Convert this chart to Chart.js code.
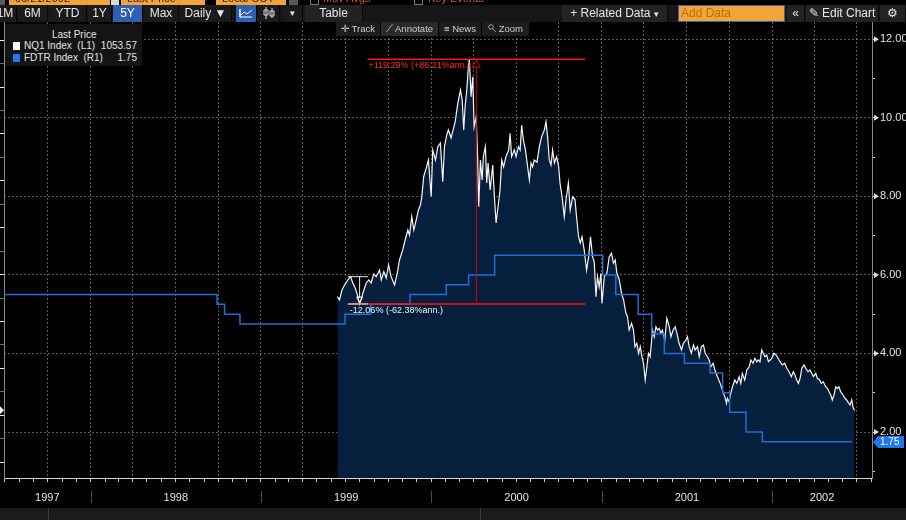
<!DOCTYPE html>
<html>
<head>
<meta charset="utf-8">
<title>NQ1 Index vs FDTR Index</title>
<script src="https://cdn.jsdelivr.net/npm/chart.js@4.4.1/dist/chart.umd.min.js"></script>
<style>
  html, body { margin: 0; padding: 0; background: #000; }
  #wrap { position: relative; width: 906px; height: 520px; overflow: hidden; font-family: "Liberation Sans", Arial, sans-serif; color: #ddd; }
  #chart { position: absolute; left: 0; top: 0; }
  .a { position: absolute; white-space: nowrap; box-sizing: border-box; }
  .row0 { top: -9px; height: 14px; font-size: 11px; line-height: 14px; }
  .obox { background: #f0a43a; color: #3a2200; padding-left: 6px; }
  .gbox { background: #5a5a5a; }
  .btn { top: 5px; height: 17px; line-height: 17px; font-size: 12px; text-align: center; color: #e6e6e6; background: #1b1b1b; border-right: 1px solid #080808; }
  .on { background: #2f5fb3; color: #fff; }
  .tb { top: 22px; height: 14px; line-height: 14px; font-size: 9.5px; color: #cfcfcf; background: #1d1d1d; text-align: center; }
  #legend { left: 5px; top: 24px; width: 137px; height: 42px; background: #141414; font-size: 10px; color: #e4e4e4; }
  #legend .sq { position: absolute; left: 8px; width: 7px; height: 8px; }
  #legend .nm { position: absolute; left: 19px; }
  #legend .vl { position: absolute; right: 5px; }
</style>
</head>
<body>
<div id="wrap">
  <canvas id="chart" width="906" height="520"></canvas>

  <div class="a row0 gbox" style="left:0;width:5px"></div>
  <div class="a row0 obox" style="left:9px;width:101px">06/21/2002</div>
  <div class="a row0" style="left:111px;width:8px;background:#d8d8d8"></div>
  <div class="a row0 obox" style="left:121px;width:84px">Last Price</div>
  <div class="a row0 obox" style="left:216px;width:70px">Local CCY</div>
  <div class="a row0 gbox" style="left:289px;width:9px"></div>
  <div class="a row0" style="left:310px;width:9px;border:1px solid #777"></div>
  <div class="a row0" style="left:323px;color:#e0502a">Mov Avgs</div>
  <div class="a row0" style="left:414px;width:9px;border:1px solid #777"></div>
  <div class="a row0" style="left:428px;color:#e0502a">Key Events</div>

  <div class="a" style="left:0;top:5px;width:906px;height:17px;background:#161616"></div>
  <div class="a btn" style="left:-6px;width:23px">1M</div>
  <div class="a btn" style="left:18px;width:30px">6M</div>
  <div class="a btn" style="left:49px;width:38px">YTD</div>
  <div class="a btn" style="left:88px;width:24px">1Y</div>
  <div class="a btn on" style="left:113px;width:30px">5Y</div>
  <div class="a btn" style="left:144px;width:35px">Max</div>
  <div class="a btn" style="left:180px;width:52px">Daily ▼</div>
  <div class="a btn on" style="left:236px;width:21px"><svg width="14" height="10" style="margin-top:3px"><polyline points="1,9 1,1 1,9 13,9" fill="none" stroke="#fff"/><polyline points="2,7 5,4 8,6 13,2" fill="none" stroke="#fff"/></svg></div>
  <div class="a btn" style="left:258px;width:22px"><svg width="12" height="12" style="margin-top:2px"><path d="M3 0V12M1 3H5V8H1Z M9 1V11M7 4H11V9H7Z" fill="none" stroke="#ddd"/></svg></div>
  <div class="a btn" style="left:283px;width:20px;font-size:9px">▾</div>
  <div class="a btn" style="left:305px;width:58px;background:#222">Table</div>
  <div class="a btn" style="left:562px;width:106px;background:#232323">+ Related Data <span style="font-size:9px">▾</span></div>
  <div class="a btn" style="left:678px;width:107px;background:#f0a43a;color:#b8700e;text-align:left;padding-left:2px;border:1px solid #3a64a8;line-height:15px">Add Data</div>
  <div class="a btn" style="left:787px;width:18px;background:#232323">«</div>
  <div class="a btn" style="left:806px;width:73px;background:#232323">✎ Edit Chart</div>
  <div class="a btn" style="left:880px;width:26px;background:#232323">⚙</div>

  <div class="a tb" style="left:336px;width:44px">✛ Track</div>
  <div class="a tb" style="left:381px;width:57px;background:#2a2a2a">⟋ Annotate</div>
  <div class="a tb" style="left:439px;width:42px">≡ News</div>
  <div class="a tb" style="left:482px;width:47px"><svg width="8" height="8"><circle cx="3" cy="3" r="2.3" fill="none" stroke="#999"/><line x1="5" y1="5" x2="8" y2="8" stroke="#999"/></svg> Zoom</div>

  <div class="a" id="legend">
    <div class="a" style="left:47px;top:5px">Last Price</div>
    <div class="sq" style="top:18px;background:#fff"></div>
    <div class="nm" style="top:16px">NQ1 Index&nbsp; (L1)</div>
    <div class="vl" style="top:16px">1053.57</div>
    <div class="sq" style="top:30px;background:#1e78ee"></div>
    <div class="nm" style="top:28px">FDTR Index&nbsp; (R1)</div>
    <div class="vl" style="top:28px">1.75</div>
  </div>

  <div class="a" style="left:0;top:508px;width:906px;height:12px;background:#1b1b1b"></div>
  <div class="a" style="left:48px;top:508px;width:1px;height:12px;background:#3c3c3c"></div>
  <div class="a" style="left:480px;top:508px;width:1px;height:12px;background:#3c3c3c"></div>
</div>

<script>
const yearLabels = ['1997', '1998', '1999', '2000', '2001', '2002'];
const xStart = 1997.492;
const xEnd = 2002.586;

const priceTicks = [500, 750, 1000, 1250, 1500, 1750, 2000, 2250, 2500, 2750, 3000, 3250, 3500, 3750, 4000, 4250, 4500, 4750, 5000];
const rateTicks = [1, 2, 3, 4, 5, 6, 7, 8, 9, 10, 11, 12];

// NQ1 Index (time in decimal years)
const nqTime = [
  1999.448, 1999.461, 1999.475, 1999.491, 1999.510, 1999.526, 1999.539, 1999.553, 1999.569, 1999.579,
  1999.592, 1999.608, 1999.618, 1999.633, 1999.647, 1999.662, 1999.676, 1999.696, 1999.706, 1999.721,
  1999.735, 1999.749, 1999.764, 1999.784, 1999.800, 1999.813, 1999.832, 1999.846, 1999.862, 1999.872,
  1999.885, 1999.897, 1999.911, 1999.924, 1999.936, 1999.944, 1999.955, 1999.970, 1999.983, 1999.999,
  2000.008, 2000.024, 2000.038, 2000.053, 2000.067, 2000.077, 2000.090, 2000.100, 2000.116, 2000.125,
  2000.140, 2000.155, 2000.171, 2000.181, 2000.190, 2000.198, 2000.208, 2000.217, 2000.223, 2000.233,
  2000.243, 2000.251, 2000.263, 2000.272, 2000.278, 2000.288, 2000.298, 2000.305, 2000.317, 2000.325,
  2000.333, 2000.345, 2000.360, 2000.370, 2000.380, 2000.389, 2000.403, 2000.413, 2000.424, 2000.438,
  2000.454, 2000.462, 2000.471, 2000.487, 2000.497, 2000.511, 2000.521, 2000.530, 2000.540, 2000.552,
  2000.565, 2000.575, 2000.585, 2000.594, 2000.604, 2000.620, 2000.634, 2000.647, 2000.663, 2000.673,
  2000.682, 2000.692, 2000.702, 2000.712, 2000.722, 2000.735, 2000.747, 2000.755, 2000.767, 2000.780,
  2000.790, 2000.804, 2000.815, 2000.829, 2000.843, 2000.852, 2000.864, 2000.874, 2000.884, 2000.897,
  2000.911, 2000.923, 2000.934, 2000.946, 2000.956, 2000.966, 2000.975, 2000.985, 2000.995, 2001.001,
  2001.015, 2001.030, 2001.044, 2001.057, 2001.069, 2001.079, 2001.089, 2001.103, 2001.116, 2001.128,
  2001.142, 2001.151, 2001.161, 2001.175, 2001.186, 2001.195, 2001.206, 2001.216, 2001.226, 2001.236,
  2001.245, 2001.255, 2001.265, 2001.274, 2001.284, 2001.298, 2001.308, 2001.318, 2001.327, 2001.337,
  2001.347, 2001.356, 2001.370, 2001.382, 2001.396, 2001.406, 2001.419, 2001.431, 2001.441, 2001.454,
  2001.468, 2001.479, 2001.494, 2001.503, 2001.513, 2001.526, 2001.538, 2001.548, 2001.562, 2001.572,
  2001.585, 2001.597, 2001.607, 2001.620, 2001.630, 2001.640, 2001.654, 2001.664, 2001.679, 2001.695,
  2001.708, 2001.722, 2001.732, 2001.737, 2001.747, 2001.757, 2001.767, 2001.781, 2001.793, 2001.806,
  2001.816, 2001.825, 2001.839, 2001.851, 2001.865, 2001.875, 2001.888, 2001.898, 2001.910, 2001.919,
  2001.929, 2001.939, 2001.948, 2001.958, 2001.968, 2001.978, 2001.988, 2001.998, 2002.011, 2002.023,
  2002.035, 2002.046, 2002.060, 2002.074, 2002.086, 2002.099, 2002.113, 2002.124, 2002.134, 2002.144,
  2002.154, 2002.164, 2002.174, 2002.187, 2002.197, 2002.210, 2002.222, 2002.232, 2002.242, 2002.256,
  2002.265, 2002.279, 2002.288, 2002.300, 2002.314, 2002.324, 2002.334, 2002.344, 2002.353, 2002.363,
  2002.373, 2002.382, 2002.392, 2002.402, 2002.416, 2002.427, 2002.437, 2002.447, 2002.457, 2002.467,
  2002.476, 2002.484
];
const nqPrice = [
  2265, 2230, 2336, 2389, 2443, 2478, 2411, 2357, 2265, 2187,
  2265, 2357, 2411, 2443, 2411, 2507, 2478, 2549, 2443, 2531,
  2464, 2603, 2478, 2389, 2517, 2656, 2763, 2869, 2976, 2922,
  3117, 2976, 3082, 3189, 3242, 3331, 3544, 3637, 3722, 3331,
  3829, 3722, 3864, 3903, 3491, 3864, 3988, 4042, 3956, 4024,
  4130, 4326, 4468, 4362, 4042, 4290, 4468, 4716, 4796, 4397,
  4610, 4077, 4183, 3722, 3224, 3722, 3509, 3757, 3864, 3477,
  3690, 3402, 3669, 3331, 3050, 3189, 3402, 3722, 3650, 3757,
  3829, 4007, 3757, 3829, 3757, 3864, 3829, 4095, 3935, 3829,
  3650, 3509, 3690, 3650, 3722, 3700, 3864, 3970, 4042, 4130,
  3970, 3722, 3669, 3829, 3690, 3757, 3650, 3477, 3331, 3117,
  3296, 3477, 3189, 3331, 3300, 3117, 2904, 2837, 2904, 2763,
  2549, 2691, 2904, 2691, 2635, 2265, 2478, 2371, 2514, 2194,
  2478, 2514, 2691, 2727, 2621, 2656, 2514, 2443, 2301, 2230,
  2088, 2051, 1910, 1981, 1910, 1732, 1768, 1661, 1732, 1625,
  1555, 1377, 1518, 1661, 1625, 1910, 1838, 1945, 1910, 1928,
  1874, 1910, 1803, 2034, 1945, 1838, 1910, 1945, 1874, 1768,
  1697, 1768, 1803, 1838, 1732, 1661, 1750, 1697, 1732, 1625,
  1732, 1750, 1661, 1625, 1590, 1518, 1555, 1483, 1412, 1341,
  1270, 1199, 1128, 1182, 1145, 1235, 1305, 1377, 1341, 1412,
  1341, 1448, 1377, 1483, 1518, 1590, 1555, 1608, 1572, 1590,
  1572, 1697, 1661, 1625, 1643, 1572, 1590, 1608, 1661, 1643,
  1608, 1572, 1537, 1555, 1502, 1465, 1412, 1465, 1430, 1377,
  1341, 1395, 1502, 1537, 1502, 1465, 1483, 1448, 1412, 1448,
  1395, 1377, 1341, 1359, 1305, 1288, 1252, 1217, 1164, 1217,
  1305, 1288, 1305, 1252, 1217, 1182, 1164, 1135, 1110, 1164,
  1075, 1053.57
];

// FDTR Index: fed funds target rate changes
const fdtrDates = ['1997-06-27', '1998-09-29', '1998-10-15', '1998-11-17', '1999-06-30', '1999-08-24', '1999-11-16',
  '2000-02-02', '2000-03-21', '2000-05-16', '2001-01-03', '2001-01-31', '2001-03-20', '2001-04-18', '2001-05-15',
  '2001-06-27', '2001-08-21', '2001-09-17', '2001-10-02', '2001-11-06', '2001-12-11', '2002-06-21'];
const fdtrRate = [5.5, 5.25, 5.0, 4.75, 5.0, 5.25, 5.5, 5.75, 6.0, 6.5, 6.0, 5.5, 5.0, 4.5, 4.0, 3.75, 3.5, 3.0, 2.5, 2.0, 1.75, 1.75];

// annotation spans (decimal years)
const rallyLineFrom = 1999.508, rallyLabelFrom = 1999.625, rallyLineTo = 2000.902, rallyMarkAt = 2000.264;
const dipFrom = 1999.510, dipTo = 1999.628, dipMarkAt = 1999.579, dipHigh = 2478;
const rallyText = '+119.29% (+86.21%ann.)';
const dipText = '-12.06% (-62.38%ann.)';

const gridCol = 'rgba(150,150,150,0.6)';
const smallFont = '9px "Liberation Sans", Arial, sans-serif';

function toYear(s) {
  const d = new Date(s + 'T00:00:00Z');
  const y = d.getUTCFullYear();
  const a = Date.UTC(y, 0, 1), b = Date.UTC(y + 1, 0, 1);
  return y + (d.getTime() - a) / (b - a);
}

function buildTimeTicks() {
  const ticks = [];
  for (let y = 1997; y <= 2002; y++) {
    for (let m = 0; m < 12; m++) {
      const v = y + (Date.UTC(y, m, 1) - Date.UTC(y, 0, 1)) / (Date.UTC(y + 1, 0, 1) - Date.UTC(y, 0, 1));
      if (v >= xStart && v <= xEnd) ticks.push({ value: v, month: m, quarter: m % 3 === 0 });
    }
  }
  yearLabels.forEach(l => {
    const y = +l;
    const a = Math.max(y, xStart), b = Math.min(y + 1, xEnd);
    ticks.push({ value: (a + b) / 2 + 0.0001, yearLabel: l });
  });
  return ticks.sort((p, q) => p.value - q.value);
}

const nqPeak = Math.max(...nqPrice);
const nqTrough = Math.min(...nqPrice.filter((v, i) => nqTime[i] >= rallyLineFrom && nqTime[i] <= rallyMarkAt));

const extrasPlugin = {
  id: 'extras',
  afterDraw(chart) {
    const ctx = chart.ctx;
    const xs = chart.scales.x, yl = chart.scales.y, yr = chart.scales.y1;
    const px = v => xs.getPixelForValue(v);
    const py = v => yl.getPixelForValue(v);
    ctx.save();

    // year separators in the label band
    ctx.strokeStyle = '#4a4a4a';
    ctx.lineWidth = 1;
    yearLabels.slice(1).forEach(l => {
      const x = Math.round(px(+l)) + 0.5;
      ctx.beginPath(); ctx.moveTo(x, 491); ctx.lineTo(x, 503); ctx.stroke();
    });

    // rally measurement (red)
    const yTop = py(nqPeak), yBot = py(nqTrough), xm = px(rallyMarkAt);
    ctx.strokeStyle = '#ff1414';
    ctx.lineWidth = 1.5;
    ctx.beginPath();
    ctx.moveTo(px(rallyLabelFrom), yTop); ctx.lineTo(px(rallyLineTo), yTop);
    ctx.moveTo(px(rallyLineFrom), yBot); ctx.lineTo(px(rallyLineTo), yBot);
    ctx.stroke();
    ctx.lineWidth = 1;
    ctx.strokeStyle = '#d80000';
    ctx.beginPath(); ctx.moveTo(xm, yTop + 8); ctx.lineTo(xm, yBot); ctx.stroke();
    ctx.beginPath(); ctx.moveTo(xm, yTop + 1); ctx.lineTo(xm - 4, yTop + 8); ctx.lineTo(xm + 4, yTop + 8); ctx.closePath(); ctx.stroke();
    ctx.font = smallFont;
    ctx.textBaseline = 'top';
    ctx.fillStyle = '#ff2a2a';
    ctx.fillText(rallyText, px(rallyLabelFrom) + 1, yTop + 2);

    // dip measurement (white)
    const yDip = py(dipHigh), xd = px(dipMarkAt);
    ctx.strokeStyle = '#f0f0f0';
    ctx.lineWidth = 1;
    ctx.beginPath();
    ctx.moveTo(px(dipFrom), yDip); ctx.lineTo(px(dipTo), yDip);
    ctx.moveTo(px(dipFrom), yBot); ctx.lineTo(px(dipTo), yBot);
    ctx.moveTo(xd, yDip); ctx.lineTo(xd, yBot - 6);
    ctx.stroke();
    ctx.beginPath(); ctx.moveTo(xd - 3, yBot - 7); ctx.lineTo(xd + 3, yBot - 7); ctx.lineTo(xd, yBot - 1); ctx.closePath(); ctx.stroke();
    ctx.fillStyle = '#f0f0f0';
    ctx.fillText(dipText, px(dipFrom) + 2, yBot + 2);

    // right axis arrows
    const ax = chart.chartArea.right;
    ctx.fillStyle = '#e0e0e0';
    yr.ticks.forEach(t => {
      if (t.value % 2 !== 0) return;
      const y = yr.getPixelForValue(t.value);
      ctx.beginPath(); ctx.moveTo(ax + 2, y - 3); ctx.lineTo(ax + 7, y); ctx.lineTo(ax + 2, y + 3); ctx.closePath(); ctx.fill();
    });

    // last value badge for FDTR
    const lastRate = fdtrRate[fdtrRate.length - 1];
    const yb = Math.round(yr.getPixelForValue(lastRate));
    ctx.fillStyle = '#1f78ea';
    ctx.beginPath();
    ctx.moveTo(ax + 1, yb); ctx.lineTo(ax + 6, yb - 6); ctx.lineTo(904, yb - 6); ctx.lineTo(904, yb + 6); ctx.lineTo(ax + 6, yb + 6);
    ctx.closePath(); ctx.fill();
    ctx.fillStyle = '#fff';
    ctx.font = '10px "Liberation Sans", Arial, sans-serif';
    ctx.textBaseline = 'middle';
    ctx.fillText(lastRate.toFixed(2), ax + 8, yb + 0.5);

    // last price marker on the left axis
    const yl0 = py(nqPrice[nqPrice.length - 1]);
    ctx.fillStyle = '#fff';
    ctx.beginPath(); ctx.moveTo(0, yl0 - 4); ctx.lineTo(4, yl0); ctx.lineTo(0, yl0 + 4); ctx.closePath(); ctx.fill();

    ctx.restore();
  }
};

Chart.defaults.font.family = '"Liberation Sans", Arial, sans-serif';
Chart.defaults.color = '#e0e0e0';

new Chart(document.getElementById('chart').getContext('2d'), {
  type: 'line',
  data: {
    datasets: [{
      label: 'NQ1 Index (L1)',
      data: nqTime.map((t, i) => ({ x: t, y: nqPrice[i] })),
      yAxisID: 'y',
      borderColor: '#f4f4f4',
      borderWidth: 1.2,
      backgroundColor: '#061f3d',
      fill: 'start',
      pointRadius: 0,
      tension: 0,
      order: 2
    }, {
      label: 'FDTR Index (R1)',
      data: fdtrDates.map((d, i) => ({ x: toYear(d), y: fdtrRate[i] })),
      yAxisID: 'y1',
      borderColor: '#1e6fdc',
      borderWidth: 1.5,
      stepped: 'before',
      fill: false,
      pointRadius: 0,
      order: 1
    }]
  },
  options: {
    responsive: false,
    animation: false,
    devicePixelRatio: 1,
    layout: { padding: { top: 22, left: 0, right: 0, bottom: 0 } },
    plugins: { legend: { display: false }, tooltip: { enabled: false } },
    scales: {
      x: {
        type: 'linear',
        min: xStart,
        max: xEnd,
        z: 1,
        afterBuildTicks: s => { s.ticks = buildTimeTicks(); },
        afterFit: s => { s.height = 42; s.paddingLeft = 0; s.paddingRight = 0; },
        ticks: {
          autoSkip: false,
          maxRotation: 0,
          minRotation: 0,
          padding: 9,
          color: '#e4e4e4',
          font: { size: 11 },
          callback: (v, i, t) => t[i].yearLabel || ''
        },
        grid: {
          color: c => (c.tick && c.tick.quarter) ? gridCol : 'rgba(0,0,0,0)',
          tickLength: 4,
          tickColor: c => (c.tick && c.tick.month !== undefined) ? '#c8c8c8' : 'rgba(0,0,0,0)'
        },
        border: { color: '#d4d4d4', width: 1, dash: [2, 2] }
      },
      y: {
        position: 'left',
        min: 332,
        max: 5193,
        afterBuildTicks: s => { s.ticks = priceTicks.map(v => ({ value: v })); },
        afterFit: s => { s.width = 4; s.paddingTop = 0; s.paddingBottom = 0; },
        ticks: { display: false },
        grid: {
          drawOnChartArea: false,
          tickLength: 4,
          color: '#777',
          tickColor: c => (c.tick && c.tick.value % 500 === 0) ? '#eeeeee' : '#6a6a6a'
        },
        border: { color: '#8a8a8a' }
      },
      y1: {
        position: 'right',
        min: 0.829,
        max: 12.44,
        z: 1,
        afterBuildTicks: s => { s.ticks = rateTicks.map(v => ({ value: v })); },
        afterFit: s => { s.width = 34; },
        ticks: {
          padding: 5,
          color: '#e4e4e4',
          font: { size: 11 },
          callback: v => v % 2 === 0 ? v.toFixed(2) : ''
        },
        grid: {
          color: c => (c.tick && c.tick.value % 2 === 0) ? gridCol : 'rgba(0,0,0,0)',
          tickLength: 3,
          tickColor: '#d0d0d0'
        },
        border: { color: '#8a8a8a', dash: [2, 2] }
      }
    }
  },
  plugins: [extrasPlugin]
});
</script>
</body>
</html>
